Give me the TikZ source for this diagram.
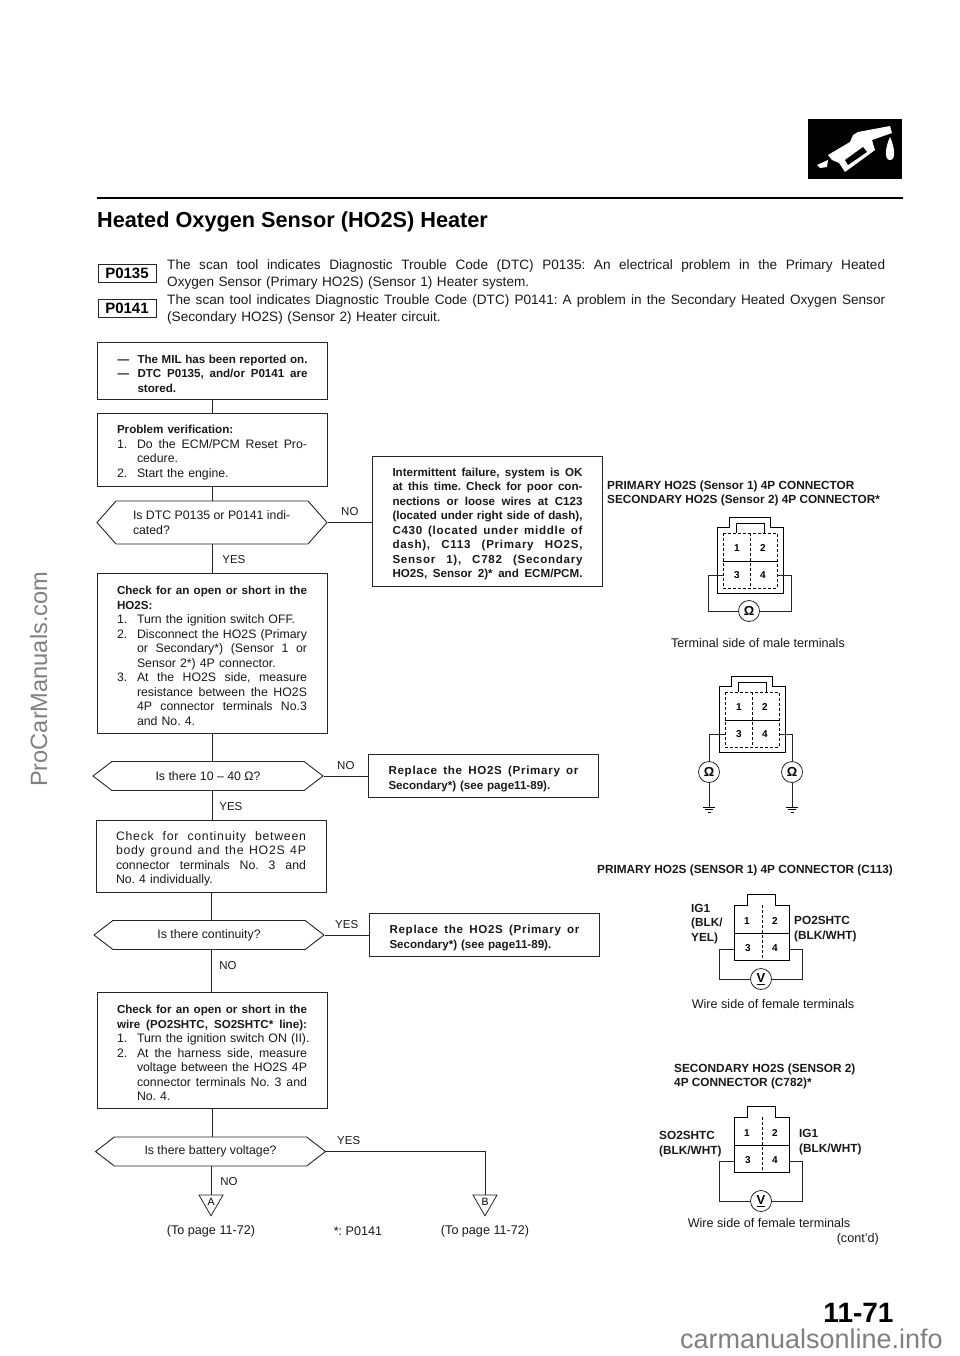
\documentclass[tikz,border=0pt]{standalone}
\usepackage{fontspec}
\setmainfont{Liberation Sans}
\usetikzlibrary{arrows.meta, positioning, shapes.geometric, shapes.symbols, calc}
\newcommand{\spreadto}[2]{\makebox[#1][s]{\spaceskip=0pt\xspaceskip=0pt #2}}
\newcommand{\fitline}[1]{\spreadto{190pt}{#1}}
\newcommand{\looser}[1]{\spreadto{190pt}{\addfontfeature{LetterSpace=6}#1}}
\newcommand{\stepline}[2]{\makebox[20pt][l]{#1}\spreadto{170pt}{#2}}
\newcommand{\hangline}[1]{\hspace*{20pt}\spreadto{170pt}{#1}}
\newcommand{\hangend}[1]{\hspace*{20pt}#1}
\newcommand{\fs}[2]{\fontsize{#1}{#2}\selectfont}
\newcommand{\boldpart}[1]{{\fs{11.6}{14.5}\bfseries #1}}
\tikzset{
    textbox/.style={rectangle, draw=black!85, line width=0.9pt, align=left,
                    text width=190pt, inner xsep=20pt, inner ysep=0pt,
                    execute at begin node={\rule{0pt}{14.5pt}},
                    font=\fs{12.3}{14.5}, text=black!90},
    boldbox/.style={textbox, font=\fs{11.6}{14.5}\bfseries},
    decision/.style={signal, signal to=east and west, draw=black!85, line width=0.9pt,
                     signal pointer angle=75, minimum width=230pt, minimum height=29pt,
                     inner sep=0pt, align=center, font=\fs{12.3}{14.5}, text=black!90},
    wire/.style={draw=black!85, line width=0.8pt},
    lbl/.style={inner sep=0pt, anchor=west, font=\fs{11.5}{14.5}, text=black!90},
    hdr/.style={inner sep=0pt, anchor=west, align=left, font=\fs{11.8}{14.5}\bfseries, text=black!90},
    caption/.style={inner sep=0pt, font=\fs{12.6}{14}, text=black!90},
    dtc/.style={rectangle, draw=black!85, line width=1pt, minimum width=58pt, minimum height=18pt,
                inner sep=0pt, font=\fs{15}{15}\bfseries},
    meter/.style={circle, draw=black!85, fill=white, line width=0.8pt, minimum size=21pt,
                  inner sep=0pt, font=\fs{13}{13}\bfseries},
    pinnum/.style={inner sep=0pt, font=\fs{10}{10}\bfseries},
    offpage/.style={regular polygon, regular polygon sides=3, shape border rotate=180, draw=black!85,
                    line width=0.8pt, minimum size=27.7pt, inner sep=0pt, font=\fs{10.5}{10.5}},
    scanmark/.style={inner sep=0pt, text=black!50},
    maleconn/.pic={
        \draw[line width=1pt] (0,0) -- (12,0) -- (12,-10) -- (53,-10) -- (53,0) -- (66,0) -- (66,66) -- (0,66) -- cycle;
        \draw[line width=0.6pt, densely dashed] (6,6) rectangle (60,61);
        \draw[line width=0.6pt] (19,6) -- (19,-4) -- (47,-4) -- (47,6);
        \draw[line width=0.6pt] (6,34) -- (60,34);
        \draw[line width=0.6pt, densely dashed] (33,6) -- (33,61);
        \node[pinnum] (-n1) at (20,21) {1};
        \node[pinnum] (-n2) at (46,21) {2};
        \node[pinnum] (-n3) at (20,48) {3};
        \node[pinnum] (-n4) at (46,48) {4};
        \coordinate (-l) at (6,48);
        \coordinate (-r) at (60,48);
    },
    femaleconn/.pic={
        \draw[line width=1pt] (0,0) -- (13,0) -- (13,-11) -- (41,-11) -- (41,0) -- (55,0) -- (55,55) -- (0,55) -- cycle;
        \draw[line width=0.7pt] (0,28) -- (55,28);
        \draw[line width=0.6pt, densely dashed] (28,0) -- (28,55);
        \node[pinnum] (-n1) at (13,16) {1};
        \node[pinnum] (-n2) at (41,16) {2};
        \node[pinnum] (-n3) at (14,43) {3};
        \node[pinnum] (-n4) at (41,43) {4};
        \coordinate (-l) at (0,44);
        \coordinate (-r) at (55,44);
    },
    groundsym/.pic={
        \draw[line width=0.6pt] (-6,0) -- (6,0) (-4,2.5) -- (4,2.5) (-1.5,5) -- (1.5,5);
    }
}

\begin{document}
\frenchspacing
\begin{tikzpicture}[x=1pt, y=-1pt]
    \useasboundingbox (0,0) rectangle (960,1356);
    % page furniture
    \fill (808,119) rectangle (902,179);
    \fill[white] (828,155) -- (850,142) -- (853,135) -- (858,132) -- (890,126) -- (892,133) -- (872,140) -- (874,147) -- (875,150) -- (845,172) -- (839,163) -- (832,160) -- cycle;
    \fill (845,160) -- (863,147) -- (867,152) -- (848,165) -- cycle;
    \fill[white] (817,165) -- (828,160) -- (827,167) -- (820,168) -- cycle;
    \fill[white] (890,137) .. controls (885,148) and (884,160) .. (890,160) .. controls (896,160) and (895,148) .. (890,137) -- cycle;
    \draw[line width=1.3pt] (97,198) -- (903,198);
    \node[inner sep=0pt, anchor=base west, font=\fs{21.7}{22}\bfseries] (title) at (97,228) {Heated Oxygen Sensor (HO2S) Heater};
    \node[dtc] (pa) at (127,273) {P0135};
    \node[dtc] (pb) at (127,308.5) {P0141};
    \node[inner sep=0pt, anchor=north west, text width=718pt, align=left, font=\fs{13.6}{17.6}, text=black!90] (intro) at (167,259) {%
      \spreadto{718pt}{The scan tool indicates Diagnostic Trouble Code (DTC) P0135: An electrical problem in the Primary Heated}\\
      Oxygen Sensor (Primary HO2S) (Sensor 1) Heater system.\\
      \spreadto{718pt}{The scan tool indicates Diagnostic Trouble Code (DTC) P0141: A problem in the Secondary Heated Oxygen Sensor}\\
      (Secondary HO2S) (Sensor 2) Heater circuit.};

    % left column
    \node[boldbox, minimum height=57pt] (mil) at (212.5,370.5) {%
      \makebox[20pt][l]{---}\spreadto{170pt}{The MIL has been reported on.}\\
      \makebox[20pt][l]{---}\spreadto{170pt}{DTC P0135, and/or P0141 are}\\
      \hangend{stored.}};
    \node[textbox, minimum height=73pt] (verify) at (212,449.5) {%
      \boldpart{Problem verification:}\\
      \stepline{1.}{Do the ECM/PCM Reset Pro-}\\
      \hangend{cedure.}\\
      \makebox[20pt][l]{2.}Start the engine.};
    \node[decision, signal pointer angle=97, minimum height=43pt] (dtcq) at (212,522.5) {%
      \parbox{158pt}{Is DTC P0135 or P0141 indi-\\cated?}};
    \node[textbox, minimum height=160pt] (ohm) at (212,653) {%
      \fitline{\boldpart{Check for an open or short in the}}\\
      \boldpart{HO2S:}\\
      \makebox[20pt][l]{1.}Turn the ignition switch OFF.\\
      \stepline{2.}{Disconnect the HO2S (Primary}\\
      \hangline{or Secondary*) (Sensor 1 or}\\
      \hangend{Sensor 2*) 4P connector.}\\
      \stepline{3.}{At the HO2S side, measure}\\
      \hangline{resistance between the HO2S}\\
      \hangline{4P connector terminals No.3}\\
      \hangend{and No. 4.}};
    \node[decision] (ohmq) at (208,776) {Is there 10 -- 40 Ω?};
    \node[textbox, minimum height=72pt] (cont) at (211,856) {%
      \looser{Check for continuity between}\\
      \looser{body ground and the HO2S 4P}\\
      \fitline{connector terminals No. 3 and}\\
      No. 4 individually.};
    \node[decision] (contq) at (209,935) {Is there continuity?};
    \node[textbox, minimum height=116pt] (volt) at (212,1050) {%
      \fitline{\boldpart{Check for an open or short in the}}\\
      \fitline{\boldpart{wire (PO2SHTC, SO2SHTC* line):}}\\
      \makebox[20pt][l]{1.}\makebox[170pt][l]{Turn the ignition switch ON (II).}\\
      \stepline{2.}{At the harness side, measure}\\
      \hangline{voltage between the HO2S 4P}\\
      \hangline{connector terminals No. 3 and}\\
      \hangend{No. 4.}};
    \node[decision] (voltq) at (210.5,1151.5) {Is there battery voltage?};
    \node[offpage] (a) at (211,1202) {A};
    \node[offpage] (b) at (485,1202) {B};

    % right column of the chart
    \node[boldbox, minimum height=130pt] (intm) at (487.5,521) {%
      \fitline{Intermittent failure, system is OK}\\
      \fitline{at this time. Check for poor con-}\\
      \fitline{nections or loose wires at C123}\\
      \fitline{(located under right side of dash),}\\
      \looser{C430 (located under middle of}\\
      \looser{dash), C113 (Primary HO2S,}\\
      \looser{Sensor 1), C782 (Secondary}\\
      \fitline{HO2S, Sensor 2)* and ECM/PCM.}};
    \node[boldbox, minimum height=43pt] (repa) at (483.5,776) {%
      \looser{Replace the HO2S (Primary or}\\
      Secondary*) (see page11-89).};
    \node[boldbox, minimum height=43pt] (repb) at (484.5,935) {%
      \looser{Replace the HO2S (Primary or}\\
      Secondary*) (see page11-89).};

    \draw[wire] (mil.south) -- (mil.south |- verify.north);
    \draw[wire] (verify.south) -- (verify.south |- dtcq.north);
    \draw[wire] (dtcq.south) -- node[lbl, pos=0.55, xshift=10pt, anchor=west] (yesa) {YES} (dtcq.south |- ohm.north);
    \draw[wire] (ohm.south) -- (ohm.south |- ohmq.north);
    \draw[wire] (ohm.south |- ohmq.south) -- node[lbl, pos=0.55, xshift=7pt, anchor=west] (yesb) {YES} (ohm.south |- cont.north);
    \draw[wire] (cont.south) -- (cont.south |- contq.north);
    \draw[wire] (cont.south |- contq.south) -- node[lbl, pos=0.37, xshift=8pt, anchor=west] (noc) {NO} (cont.south |- volt.north);
    \draw[wire] (volt.south) -- (volt.south |- voltq.north);
    \draw[wire] (a.north |- voltq.south) -- node[lbl, pos=0.55, xshift=9pt, anchor=west] (nod) {NO} (a.north);
    \draw[wire] (dtcq.east) -- (intm.west |- dtcq.east);
    \draw[wire] (ohmq.east) -- (repa.west);
    \draw[wire] (contq.east) -- (repb.west);
    \draw[wire] (voltq.east) -| (b.north);
    \node[lbl] (noa) at (341,512) {NO};
    \node[lbl] (nob) at (337,766) {NO};
    \node[lbl] (yesc) at (335,925) {YES};
    \node[lbl] (yesd) at (337,1141) {YES};
    \node[caption] (toa) at (211,1231) {(To page 11-72)};
    \node[caption] (star) at (358,1231) {*: P0141};
    \node[caption] (tob) at (485,1231) {(To page 11-72)};

    % connector views
    \node[hdr] (hdra) at (607,493.5) {PRIMARY HO2S (Sensor 1) 4P CONNECTOR\\SECONDARY HO2S (Sensor 2) 4P CONNECTOR*};
    \pic (cona) at (717,527) {maleconn};
    \node[meter] (oma) at (749,611) {Ω};
    \draw[wire] (cona-l) -- ++(-15,0) |- (oma.west);
    \draw[wire] (cona-r) -- ++(14,0) |- (oma.east);
    \node[caption] (capa) at (758,643) {Terminal side of male terminals};

    \pic (conb) at (719,686) {maleconn};
    \node[meter] (omb) at (709,772) {Ω};
    \node[meter] (omc) at (792,772) {Ω};
    \coordinate (gndb) at (709,807);
    \coordinate (gndc) at (792,807);
    \draw[wire] (conb-l) -| (omb.north);
    \draw[wire] (conb-r) -| (omc.north);
    \draw[wire] (omb.south) -- (gndb);
    \draw[wire] (omc.south) -- (gndc);
    \pic at (gndb) {groundsym};
    \pic at (gndc) {groundsym};

    \node[hdr] (hdrc) at (597,870) {PRIMARY HO2S (SENSOR 1) 4P CONNECTOR (C113)};
    \pic (conc) at (734,905) {femaleconn};
    \node[meter] (vc) at (761,979) {\underline{V}};
    \draw[wire] (conc-l) -- ++(-15,0) |- (vc.west);
    \draw[wire] (conc-r) -- ++(13,0) |- (vc.east);
    \node[hdr, anchor=north west] (igc) at (691,904) {IG1\\(BLK/\\YEL)};
    \node[hdr, font=\fs{11.8}{15}\bfseries] (poc) at (794,929.5) {PO2SHTC\\(BLK/WHT)};
    \node[caption] (capc) at (773,1004) {Wire side of female terminals};

    \node[hdr] (hdrd) at (674,1076.5) {SECONDARY HO2S (SENSOR 2)\\4P CONNECTOR (C782)*};
    \pic (cond) at (734,1117) {femaleconn};
    \node[meter] (vd) at (761,1201) {\underline{V}};
    \draw[wire] (cond-l) -- ++(-15,0) |- (vd.west);
    \draw[wire] (cond-r) -- ++(13,0) |- (vd.east);
    \node[hdr, font=\fs{11.8}{15}\bfseries] (sod) at (659,1144.5) {SO2SHTC\\(BLK/WHT)};
    \node[hdr, font=\fs{11.8}{15}\bfseries] (igd) at (799,1142) {IG1\\(BLK/WHT)};
    \node[caption] (capd) at (769,1223) {Wire side of female terminals};
    \node[caption, anchor=east] (contd) at (879,1239) {(cont'd)};

    % page number and scan marks
    \node[inner sep=0pt, font=\fs{28}{28}\bfseries] (pageno) at (858.5,1313) {11-71};
    \node[scanmark, rotate=90, anchor=base west, font=\fs{23.6}{25}] (marka) at (47,787) {ProCarManuals.com};
    \node[scanmark, anchor=base east, font=\fs{27}{27}] (markb) at (943,1348) {carmanualsonline.info};
\end{tikzpicture}
\end{document}
